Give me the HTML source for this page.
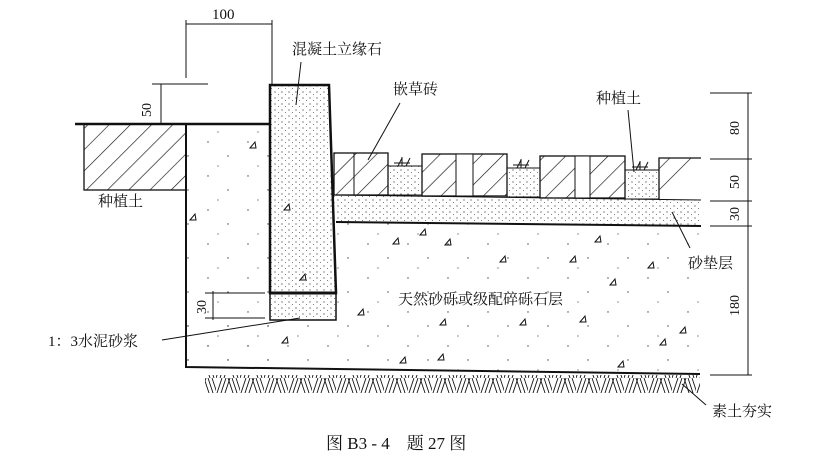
<!DOCTYPE html>
<html><head><meta charset="utf-8"><style>
html,body{margin:0;padding:0;background:#fff}
svg text{font-family:"Liberation Serif","Noto Serif CJK SC","Noto Sans CJK SC",serif;fill:#111}
</style></head><body>
<svg width="826" height="457" viewBox="0 0 826 457" xmlns="http://www.w3.org/2000/svg">
<defs>
<pattern id="h" width="15" height="15" patternUnits="userSpaceOnUse" patternTransform="rotate(45)">
<line x1="0" y1="0" x2="0" y2="15" stroke="#111" stroke-width="1.3"/></pattern>
<pattern id="d" width="7" height="6" patternUnits="userSpaceOnUse">
<circle cx="2" cy="2" r="0.6" fill="#333"/><circle cx="5.5" cy="4.5" r="0.5" fill="#555"/></pattern>
<pattern id="c" width="40" height="34" patternUnits="userSpaceOnUse">
<circle cx="8" cy="6" r="0.7" fill="#444"/><circle cx="28" cy="20" r="0.7" fill="#444"/><circle cx="18" cy="30" r="0.6" fill="#444"/></pattern>
<pattern id="g" width="24" height="18" patternUnits="userSpaceOnUse">
<path d="M0 18 L6 0 M4 18 L10 0 M8 18 L14 0 M12 0 L18 18 M16 0 L22 18 M20 0 L26 18" stroke="#111" stroke-width="0.9"/></pattern>
</defs>
<g stroke="#111" fill="none" stroke-width="1">
<line x1="186" y1="24" x2="272" y2="24"/><line x1="186" y1="20" x2="186" y2="78"/><line x1="272" y1="20" x2="272" y2="85"/>
<line x1="152" y1="84" x2="208" y2="84"/><line x1="161" y1="84" x2="161" y2="124"/>
<rect x="186" y="124" width="84" height="243" fill="url(#c)" stroke="none"/>
<polygon points="336,222 701,226 700,374 186,367 186,320 336,320" fill="url(#c)" stroke="none"/>
<path d="M186 124 L186 367 L700 374" stroke-width="2"/>
<rect x="205" y="375" width="495" height="18" fill="url(#g)" stroke="none"/>
<line x1="75" y1="124" x2="270" y2="124" stroke-width="2.5"/>
<rect x="84" y="124" width="102" height="66" fill="url(#h)" stroke-width="1.3"/>
<polygon points="270,85 329,85 336,293 270,293" fill="url(#d)" stroke-width="2.5"/>
<rect x="270" y="293" width="66" height="27" fill="url(#d)" stroke-width="1.5"/>
<line x1="270" y1="293" x2="336" y2="293" stroke-width="3"/>
<polygon points="334,195 701,200 701,226 336,222" fill="url(#d)" stroke="none"/>
<line x1="334" y1="195" x2="701" y2="200"/>
<line x1="336" y1="222" x2="701" y2="226" stroke-width="2"/>
<rect x="334" y="153" width="54" height="42" fill="url(#h)" stroke-width="1.3"/><line x1="354" y1="153" x2="354" y2="195"/>
<rect x="388" y="166" width="34" height="29" fill="url(#d)"/>
<rect x="422" y="154" width="85" height="42" fill="url(#h)" stroke-width="1.3"/><rect x="456" y="154" width="17" height="42" fill="#fff"/>
<rect x="507" y="168" width="33" height="29" fill="url(#d)"/>
<rect x="540" y="156" width="85" height="42" fill="url(#h)" stroke-width="1.3"/><rect x="575" y="156" width="15" height="42" fill="#fff"/>
<rect x="625" y="170" width="34" height="29" fill="url(#d)"/>
<path d="M701 158 L659 158 L659 199" fill="url(#h)" stroke-width="1.3"/>
<path d="M398 166 l4 -8 M402 166 v-9 M406 166 l4 -8 M394 163 h16"/>
<path d="M517 168 l4 -8 M521 168 v-9 M525 168 l4 -8 M513 165 h16"/>
<path d="M636 170 l4 -8 M640 170 v-9 M644 170 l4 -8 M632 167 h16"/>
<line x1="748" y1="93" x2="748" y2="375"/>
<line x1="710" y1="93" x2="752" y2="93"/><line x1="710" y1="159" x2="752" y2="159"/>
<line x1="710" y1="201" x2="752" y2="201"/><line x1="710" y1="226" x2="752" y2="226"/><line x1="710" y1="375" x2="752" y2="375"/>
<line x1="213" y1="291" x2="213" y2="320"/><line x1="205" y1="293" x2="265" y2="293"/><line x1="205" y1="318" x2="265" y2="318"/>
<line x1="301" y1="62" x2="296" y2="105"/><line x1="400" y1="103" x2="368" y2="160"/>
<line x1="628" y1="110" x2="634" y2="172"/><line x1="690" y1="248" x2="672" y2="212"/>
<line x1="162" y1="340" x2="300" y2="318"/><line x1="706" y1="405" x2="682" y2="384"/>
<path d="M250 148 l5 -6 l1 6z M284 210 l5 -6 l1 6z M393 244 l5 -6 l1 6z M420 235 l5 -6 l1 6z M500 262 l5 -6 l1 6z M570 262 l5 -6 l1 6z M648 268 l5 -6 l1 6z M610 285 l5 -6 l1 6z M358 315 l5 -6 l1 6z M440 325 l5 -6 l1 6z M520 325 l5 -6 l1 6z M580 322 l5 -6 l1 6z M680 333 l5 -6 l1 6z M282 343 l5 -6 l1 6z M400 363 l5 -6 l1 6z M618 367 l5 -6 l1 6z M190 220 l5 -6 l1 6z M300 280 l5 -6 l1 6z M445 245 l5 -6 l1 6z M595 242 l5 -6 l1 6z M660 345 l5 -6 l1 6z M438 360 l5 -6 l1 6z"/>
</g>
<g font-size="15">
<text x="292" y="54">混凝土立缘石</text>
<text x="393" y="94">嵌草砖</text>
<text x="596" y="103">种植土</text>
<text x="98" y="206">种植土</text>
<text x="688" y="268">砂垫层</text>
<text x="398" y="304">天然砂砾或级配碎砾石层</text>
<text x="48" y="346">1：3水泥砂浆</text>
<text x="712" y="416">素土夯实</text>
<text x="212" y="19">100</text>
<text x="326" y="449" font-size="17">图 B3 - 4　题 27 图</text>
</g>
<g font-size="14">
<text transform="translate(151,117) rotate(-90)">50</text>
<text transform="translate(739,135) rotate(-90)">80</text>
<text transform="translate(739,189) rotate(-90)">50</text>
<text transform="translate(739,221) rotate(-90)">30</text>
<text transform="translate(739,316) rotate(-90)">180</text>
<text transform="translate(206,314) rotate(-90)">30</text>
</g>
</svg>
</body></html>
